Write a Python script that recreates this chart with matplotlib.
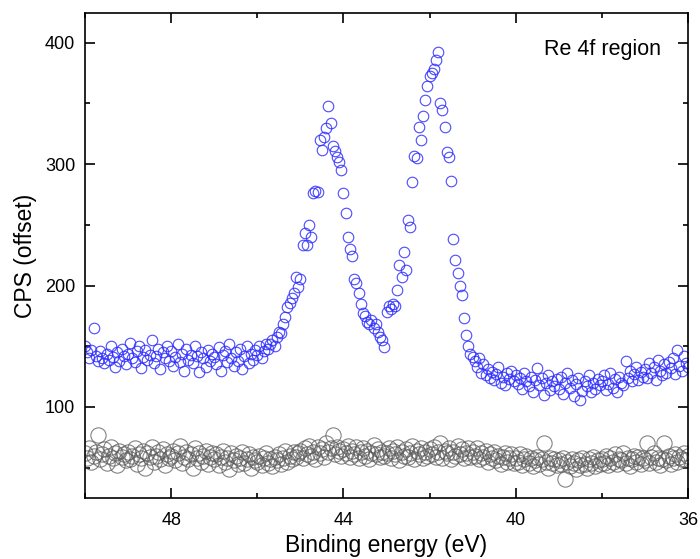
import numpy as np
import matplotlib
matplotlib.use("Agg")
import matplotlib.pyplot as plt
from matplotlib.ticker import MultipleLocator

plt.rcParams['font.family'] = ['Liberation Sans', 'DejaVu Sans']

# Binding energy scan: 50.00 -> 36.00 eV
e_start, e_stop = 50.0, 36.0

# Re 4f region (blue, offset), one row per 1 eV (step 0.05 eV)
re4f_cps = [
    150, 145, 140, 147, 165, 142, 138, 146, 140, 136, 144, 139, 150, 141, 133, 145, 138, 148, 142, 135,
    144, 153, 140, 137, 146, 150, 132, 141, 147, 139, 143, 155, 136, 142, 148, 131, 145, 140, 150, 138,
    146, 134, 141, 152, 137, 144, 130, 148, 139, 143, 136, 150, 142, 129, 145, 140, 133, 147, 138, 144,
    141, 135, 149, 130, 143, 146, 137, 152, 140, 134, 145, 138, 148, 131, 142, 150, 136, 144, 139, 147,
    143, 150, 140, 146, 152, 148, 152, 155, 150, 158, 162, 161, 168, 174, 182, 186, 190, 194, 207, 199,
    205, 233, 243, 233, 250, 240, 276, 278, 277, 320, 312, 322, 330, 348, 334, 315, 311, 306, 302, 295,
    276, 260, 240, 230, 224, 205, 202, 194, 185, 177, 175, 170, 168, 172, 165, 168, 162, 158, 155, 149,
    178, 183, 181, 185, 183, 196, 217, 207, 228, 213, 254, 248, 285, 307, 305, 331, 320, 340, 353, 364,
    373, 375, 378, 386, 392, 350, 345, 331, 310, 306, 286, 238, 221, 210, 200, 192, 173, 159, 150, 144,
    141, 138, 133, 140, 128, 135, 126, 131, 124, 129, 122, 127, 133, 120, 125, 118, 128, 123, 130, 121,
    126, 119, 124, 115, 128, 121, 117, 125, 112, 122, 132, 118, 124, 110, 120, 126, 114, 121, 117, 123,
    115, 125, 111, 120, 128, 116, 122, 109, 119, 124, 106, 113, 121, 117, 126, 112, 120, 115, 123, 118,
    121, 126, 114, 119, 128, 116, 123, 112, 125, 120, 118, 138, 124, 130, 121, 127, 133, 122, 129, 125,
    131, 124, 136, 128, 133, 122, 139, 130, 126, 135, 128, 137, 132, 140, 127, 147, 134, 130, 142, 136,
    133,
]

# Reference scan (grey)
ref_cps = [
    62, 58, 66, 55, 60, 63, 77, 57, 61, 65, 54, 60, 67, 58, 62, 52, 64, 59, 61, 56,
    63, 57, 60, 66, 53, 61, 58, 64, 50, 62, 59, 67, 55, 60, 63, 57, 65, 52, 61, 58,
    60, 64, 56, 62, 68, 54, 59, 63, 57, 61, 50, 66, 58, 62, 55, 60, 64, 53, 59, 62,
    57, 61, 52, 59, 64, 55, 58, 49, 62, 56, 60, 53, 58, 63, 54, 57, 61, 50, 59, 56,
    55, 60, 52, 58, 62, 54, 57, 51, 59, 56, 61, 53, 58, 64, 55, 60, 57, 63, 59, 62,
    64, 58, 66, 61, 68, 60, 63, 57, 67, 62, 65, 59, 70, 63, 66, 77, 61, 67, 64, 60,
    65, 62, 68, 59, 64, 61, 67, 58, 63, 66, 60, 64, 57, 62, 69, 61, 65, 59, 63, 60,
    62, 66, 58, 64, 61, 67, 56, 63, 60, 65, 59, 62, 68, 57, 64, 61, 66, 58, 63, 60,
    65, 61, 67, 59, 63, 70, 58, 64, 62, 66, 57, 63, 60, 68, 61, 65, 58, 62, 66, 59,
    63, 60, 66, 57, 62, 59, 64, 55, 61, 58, 63, 56, 60, 53, 59, 62, 55, 58, 61, 54,
    58, 55, 61, 52, 57, 60, 54, 58, 51, 56, 59, 53, 57, 70, 55, 50, 58, 54, 57, 52,
    56, 53, 58, 41, 55, 51, 57, 54, 49, 56, 52, 58, 53, 50, 57, 54, 59, 51, 56, 53,
    57, 54, 60, 52, 58, 55, 61, 53, 57, 56, 62, 54, 58, 51, 57, 60, 55, 59, 53, 58,
    56, 70, 54, 59, 62, 55, 58, 52, 57, 70, 56, 60, 53, 58, 61, 55, 59, 57, 62, 56,
    60,
]

x_major = [48, 44, 40, 36]
y_major = [100, 200, 300, 400]

energy_blue = np.linspace(e_start, e_stop, len(re4f_cps))
energy_grey = np.linspace(e_start, e_stop, len(ref_cps))

fig = plt.figure(figsize=(7.0, 5.59), dpi=100)
ax = fig.add_axes([85/700, (559-498)/559, (688-85)/700, (498-13)/559])

ax.plot(energy_grey, ref_cps, linestyle='none', marker='o', markersize=11,
        markerfacecolor='none', markeredgecolor='#5a5a5a', markeredgewidth=0.8, alpha=0.75)
ax.plot(energy_blue, re4f_cps, linestyle='none', marker='o', markersize=7.6,
        markerfacecolor='none', markeredgecolor='#2b2bff', markeredgewidth=0.8, alpha=0.85)

ax.set_xlim(50.0, 36.0)
ax.set_ylim(25, 424.5)
ax.set_xticks(x_major)
ax.set_yticks(y_major)
ax.xaxis.set_minor_locator(MultipleLocator(2))
ax.yaxis.set_minor_locator(MultipleLocator(50))

ax.tick_params(which='both', direction='in', top=True, right=True, width=1.2, labelsize=13)
ax.tick_params(which='major', length=7)
ax.tick_params(which='minor', length=3.8)
ax.tick_params(axis='x', which='major', pad=10)
ax.tick_params(axis='y', which='major', pad=7)
for s in ax.spines.values():
    s.set_linewidth(1.2)

ax.set_xlabel('Binding energy (eV)', fontsize=16.5, labelpad=4)
ax.set_ylabel('CPS (offset)', fontsize=16.5, labelpad=6)

ax.text(0.955, 0.925, 'Re 4f region', transform=ax.transAxes, ha='right', va='center', fontsize=15.5)

fig.savefig('out.png', dpi=100)
